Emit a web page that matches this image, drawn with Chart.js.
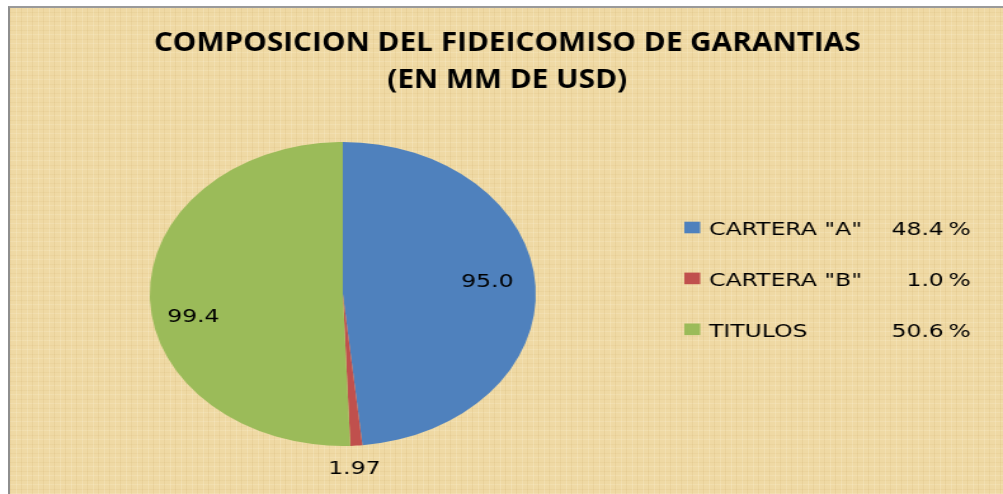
<!DOCTYPE html>
<html>
<head>
<meta charset="utf-8">
<script src="https://cdn.jsdelivr.net/npm/chart.js@4.4.0/dist/chart.umd.min.js"></script>
<style>
    html, body { margin: 0; padding: 0; background: #fff; width: 1003px; height: 494px; overflow: hidden; }
    #frame {
        position: absolute; left: 8px; top: 6px; right: 0; bottom: 0;
        border-left: 2px solid #8e8e8e; border-top: 2px solid #9a9a9a;
        background-color: #efd9a4;
        background-image:
            repeating-linear-gradient(90deg, rgba(185, 145, 70, 0.10) 0 1px, transparent 1px 6px, rgba(255, 250, 230, 0.18) 6px 7px, transparent 7px 11px),
            repeating-linear-gradient(0deg, rgba(255, 250, 230, 0.16) 0 1px, transparent 1px 4px, rgba(185, 145, 70, 0.08) 4px 5px, transparent 5px 9px);
    }
    /* the reference is a horizontally stretched screenshot, so the canvas gets the same stretch */
    #pie { position: absolute; left: 0; top: 0; transform-origin: 0 0; transform: scaleX(1.26962); }
</style>
</head>
<body>
<div id="frame"></div>
<canvas id="pie" width="790" height="494"></canvas>
<script>
    const categories = ['CARTERA "A"', 'CARTERA "B"', 'TITULOS'];
    const values = [95.0, 1.97, 99.4];
    const valueLabels = ['95.0', '1.97', '99.4'];
    const sliceColors = ['#4F81BD', '#C0504D', '#9BBB59'];
    const titleLines = ['COMPOSICION DEL FIDEICOMISO DE GARANTIAS', '(EN MM DE USD)'];

    // label placement: radius factor and small nudges, as excel put them
    const labelPlace = [
        { f: 0.75, dx: 0, dy: -8 },
        { f: 1.14, dx: -3, dy: 0 },
        { f: 0.775, dx: 0, dy: 19 }
    ];

    const bodyFont = '18.5px "DejaVu Sans", Verdana, sans-serif';

    const textPlugin = {
        id: 'textPlugin',
        afterDraw(chart) {
            const ctx = chart.ctx;
            const total = values.reduce((a, b) => a + b, 0);

            // Title, squeezed to the width of the original
            ctx.save();
            ctx.fillStyle = '#000';
            ctx.font = 'bold 26.6px "Open Sans", sans-serif';
            const sx = 556.7 / ctx.measureText(titleLines[0]).width;
            const titleY = [50.7, 88];
            titleLines.forEach((line, i) => {
                ctx.save();
                ctx.translate(399.5, titleY[i]);
                ctx.scale(sx, 1);
                ctx.textAlign = 'center';
                ctx.textBaseline = 'alphabetic';
                ctx.fillText(line, 0, 0);
                ctx.restore();
            });
            ctx.restore();

            // Data labels on the slices
            const meta = chart.getDatasetMeta(0);
            ctx.save();
            ctx.font = bodyFont;
            ctx.fillStyle = '#000';
            ctx.textAlign = 'center';
            ctx.textBaseline = 'alphabetic';
            meta.data.forEach((arc, i) => {
                const mid = (arc.startAngle + arc.endAngle) / 2;
                const p = labelPlace[i];
                const x = arc.x + Math.cos(mid) * arc.outerRadius * p.f + p.dx;
                const y = arc.y + Math.sin(mid) * arc.outerRadius * p.f + p.dy;
                ctx.fillText(valueLabels[i], x, y + 6.7);
            });
            ctx.restore();

            // Legend with percentages
            ctx.save();
            ctx.font = bodyFont;
            ctx.textBaseline = 'alphabetic';
            categories.forEach((cat, i) => {
                const base = 235 + i * 50.9;
                ctx.fillStyle = sliceColors[i];
                ctx.fillRect(539, base - 13.3, 12.5, 11.6);
                ctx.fillStyle = '#000';
                ctx.textAlign = 'left';
                ctx.fillText(cat, 558.5, base);
                ctx.textAlign = 'right';
                ctx.fillText((values[i] / total * 100).toFixed(1) + '\u2009%', 764.6, base);
            });
            ctx.restore();
        }
    };

    const ctx = document.getElementById('pie').getContext('2d');
    new Chart(ctx, {
        type: 'pie',
        data: {
            labels: categories,
            datasets: [{
                data: values,
                backgroundColor: sliceColors,
                borderWidth: 0,
                hoverOffset: 0
            }]
        },
        options: {
            responsive: false,
            animation: false,
            layout: { padding: { left: 118, right: 368, top: 142, bottom: 48 } },
            plugins: {
                legend: { display: false },
                tooltip: { enabled: false },
                title: { display: false }
            }
        },
        plugins: [textPlugin]
    });
</script>
</body>
</html>
